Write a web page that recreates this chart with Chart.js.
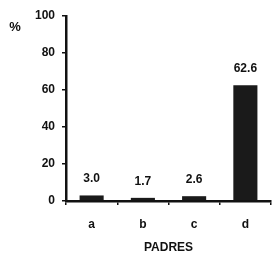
<!DOCTYPE html>
<html>
<head>
<meta charset="utf-8">
<script src="https://cdn.jsdelivr.net/npm/chart.js@4"></script>
<style>
    body { margin: 0; background: #fff; }
    #caixa { width: 272px; height: 255px; position: relative; }
</style>
</head>
<body>
<div id="caixa"><canvas id="grafico"></canvas></div>
<script>
const categorias = ['a', 'b', 'c', 'd'];
const valores = [3.0, 1.7, 2.6, 62.6];
const ticksY = [0, 20, 40, 60, 80, 100];

const fonte = { family: 'Liberation Sans, Arial, sans-serif', size: 12, weight: 'bold' };
const preto = '#111';

// rótulos de valor e o "%" do eixo
const rotulos = {
    id: 'rotulos',
    afterDatasetsDraw(chart) {
        const ctx = chart.ctx;
        const meta = chart.getDatasetMeta(0);
        ctx.save();
        ctx.font = 'bold 12px Liberation Sans, Arial, sans-serif';
        ctx.fillStyle = preto;
        ctx.textAlign = 'center';
        ctx.textBaseline = 'alphabetic';
        meta.data.forEach((barra, i) => {
            ctx.fillText(valores[i].toFixed(1), barra.x, barra.y - 13);
        });
        ctx.font = 'bold 13px Liberation Sans, Arial, sans-serif';
        ctx.textBaseline = 'middle';
        ctx.fillText('%', 15, 27);
        ctx.restore();
    }
};

new Chart(document.getElementById('grafico'), {
    type: 'bar',
    data: {
        labels: categorias,
        datasets: [{
            data: valores,
            backgroundColor: '#1a1a1a',
            categoryPercentage: 1,
            barPercentage: 0.47
        }]
    },
    options: {
        responsive: true,
        maintainAspectRatio: false,
        animation: false,
        layout: { padding: { top: 16, right: 1, left: 0, bottom: 0 } },
        plugins: {
            legend: { display: false },
            tooltip: { enabled: false }
        },
        scales: {
            x: {
                grid: { drawOnChartArea: false, tickLength: 4, color: preto, lineWidth: 1.5, offset: true },
                border: { color: preto, width: 2.5 },
                ticks: { font: fonte, color: preto, padding: 12 },
                title: { display: true, text: 'PADRES', font: fonte, color: preto, padding: { top: 0, bottom: 0 } },
                afterFit(scale) { scale.height = 54; }
            },
            y: {
                min: 0,
                max: 100,
                afterBuildTicks(scale) { scale.ticks = ticksY.map(v => ({ value: v })); },
                grid: { drawOnChartArea: false, tickLength: 4, color: preto, lineWidth: 1.5 },
                border: { color: preto, width: 2.5 },
                ticks: { font: fonte, color: preto, padding: 7 },
                afterFit(scale) { scale.width = 66; }
            }
        }
    },
    plugins: [rotulos]
});
</script>
</body>
</html>
